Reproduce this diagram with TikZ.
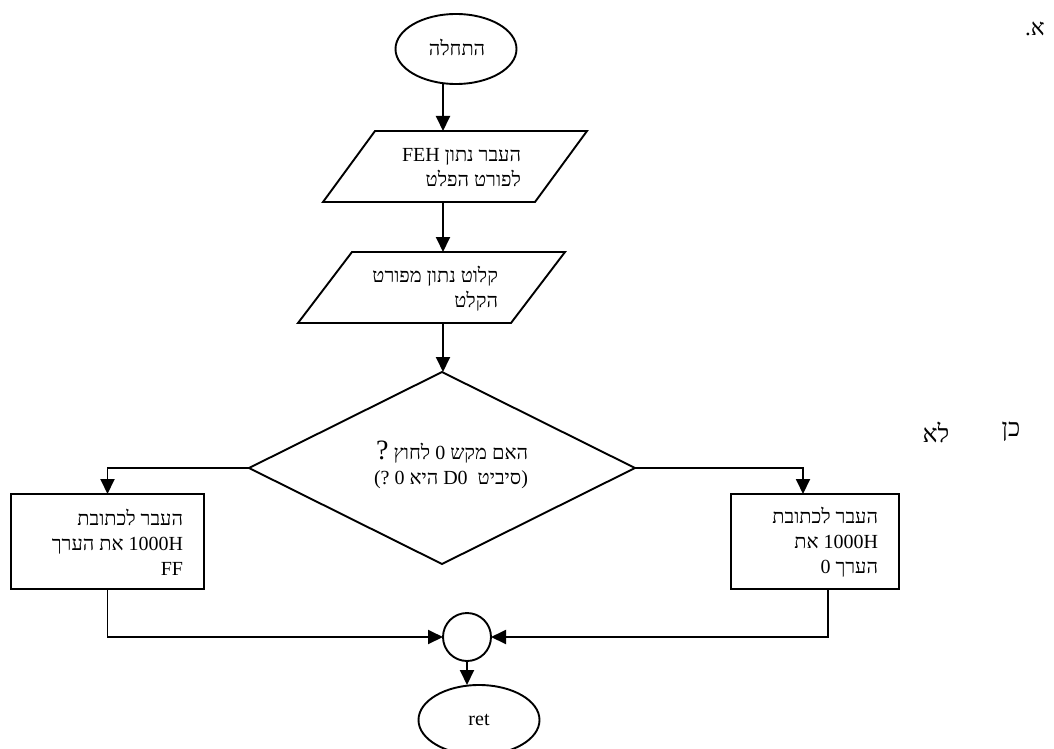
\documentclass[tikz,border=0pt]{standalone}
\usepackage{fontspec}
\setmainfont{Liberation Serif}
\newfontfamily\heb[Script=Hebrew]{Liberation Serif}
\TeXXeTstate=1
\usetikzlibrary{arrows.meta,shapes.geometric,calc}
\newcommand\hebline[1]{{\heb\beginR #1\endR}}
\begin{document}
\begin{tikzpicture}[x=1pt,y=-1pt,
  line width=1.9pt,
  every node/.style={inner sep=0pt, outer sep=0pt},
  arr/.style={-{Triangle[length=15pt,width=14pt]}},
  term/.style={draw, ellipse, minimum width=121pt, minimum height=70pt},
  plane/.style={draw=none, rectangle, minimum height=71pt},
  box/.style={draw, rectangle, minimum height=95pt},
  lbl/.style={font=\fontsize{20}{25}\selectfont, align=right},
  big/.style={font=\fontsize{25}{25}\selectfont\heb}
]
\useasboundingbox (0,0) rectangle (1054,749);
\coordinate (axis) at (443,0);
% shapes
\node[term] (start) at (456,49) {};
\node[plane, minimum width=264pt] (p1) at (455,166.5) {};
\draw ($(p1.north west)+(52,0)$) -- (p1.north east) -- ($(p1.south east)+(-52,0)$) -- (p1.south west) -- cycle;
\node[plane, minimum width=267pt] (p2) at (431.5,287.5) {};
\draw ($(p2.north west)+(54,0)$) -- (p2.north east) -- ($(p2.south east)+(-54,0)$) -- (p2.south west) -- cycle;
\node[draw, diamond, minimum width=386pt, minimum height=192pt] (dec) at (442,468) {};
\node[box, minimum width=193pt] (lbox) at (107.5,541.5) {};
\node[box, minimum width=168pt] (rbox) at (815,541.5) {};
\node[draw, circle, minimum size=48pt] (merge) at (467,637) {};
\node[term] (ret) at (479,720) {};
% texts
\node[lbl] (t0) at (457,47) {\hebline{התחלה}};
\node[lbl, anchor=east] (t1) at (521,167.5) {\hebline{העבר נתון FEH}\\\hebline{לפורט הפלט}};
\node[lbl, anchor=east] (t2) at (498,288.5) {\hebline{קלוט נתון מפורט}\\\hebline{הקלט}};
\node[lbl, anchor=east] (t3) at (528,464.5) {\hebline{האם מקש 0 לחוץ {\fontsize{28}{25}\selectfont ?}}\\\hebline{\hbox{(}סיביט~ D0 היא 0 ?\hbox{)}}};
\node[lbl, anchor=east] (t4) at (183,542.5) {\hebline{העבר לכתובת}\\\hebline{1000H את הערך}\\\hebline{FF}};
\node[lbl, anchor=east] (t5) at (878,542.5) {\hebline{העבר לכתובת}\\\hebline{1000H את}\\\hebline{הערך 0}};
\node[lbl] (t6) at (479,720) {ret};
\node[big] (yes) at (1011,432) {כן};
\node[big] (no) at (936,432) {לא};
\node[font=\fontsize{23}{25}\selectfont] (sec) at (1035,29) {.\hbox{\heb א}};
% connectors
\draw[arr] (start.south -| axis) -- (p1.north -| axis);
\draw[arr] (p1.south -| axis) -- (p2.north -| axis);
\draw[arr] (p2.south -| axis) -- (dec.north -| axis);
\draw[arr] (dec.west) -| (lbox.north);
\draw[arr] (dec.east) -| ([xshift=-12pt]rbox.north);
\draw[arr] (lbox.south) |- (merge.west);
\draw[arr] ([xshift=13pt]rbox.south) |- (merge.east);
\draw[arr] (merge.south) -- (merge.south |- ret.north);
\end{tikzpicture}
\end{document}
